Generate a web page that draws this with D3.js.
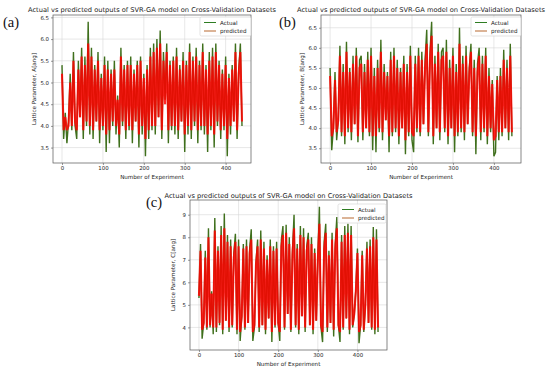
<!DOCTYPE html>
<html>
<head>
<meta charset="utf-8">
<script src="https://cdn.jsdelivr.net/npm/d3@7"></script>
<style>
  body { margin: 0; background: #fff; }
  text { font-family: "DejaVu Sans", sans-serif; fill: #222; }
  .plabel { font-family: "Liberation Serif", "DejaVu Serif", serif; fill: #111; }
</style>
</head>
<body>
<script>
// experiment step between stored samples
var STEP = 4;

var xTicks = [0, 100, 200, 300, 400];
var yTicksAB = [3.5, 4.0, 4.5, 5.0, 5.5, 6.0, 6.5];
var yTicksC = [4, 5, 6, 7, 8, 9];

var titleText = 'Actual vs predicted outputs of SVR-GA model on Cross-Validation Datasets';
var seriesNames = ['Actual', 'predicted'];

// panel (a) lattice parameter A
var aActual = [
  5.4, 3.7, 4.3, 3.6, 4.1, 5.2, 3.9, 5.7, 4.0, 3.7,
  5.5, 4.2, 5.8, 3.7, 5.6, 4.0, 6.4, 3.8, 5.8, 3.7,
  5.4, 4.1, 5.7, 3.6, 5.2, 3.9, 5.6, 3.4, 5.5, 3.6,
  5.3, 4.0, 5.5, 3.8, 4.7, 3.5, 5.8, 4.0, 5.4, 3.7,
  5.5, 3.9, 5.6, 3.6, 5.3, 4.1, 5.5, 3.5, 5.6, 3.8,
  5.2, 3.3, 5.4, 3.7, 5.8, 3.9, 5.9, 3.8, 6.0, 4.2,
  6.2, 3.7, 5.7, 4.6, 5.9, 3.6, 5.5, 3.9, 5.6, 3.8,
  5.8, 3.7, 5.4, 4.1, 5.7, 3.4, 5.5, 3.8, 5.9, 3.7,
  5.6, 4.0, 5.8, 3.6, 5.5, 3.9, 5.9, 3.8, 5.4, 3.4,
  5.7, 3.9, 5.8, 3.5, 5.9, 4.0, 5.5, 3.7, 5.3, 3.9,
  5.6, 3.3, 5.2, 3.8, 5.4, 4.1, 5.9, 3.7, 5.3, 5.9, 4.0
];
var aPredicted = [
  5.2, 3.9, 4.2, 3.9, 4.0, 5.0, 4.0, 5.5, 4.1, 3.9,
  5.3, 4.2, 5.6, 3.9, 5.4, 4.1, 5.9, 4.0, 5.6, 3.9,
  5.3, 4.1, 5.5, 3.9, 5.1, 4.0, 5.4, 3.8, 5.3, 3.9,
  5.2, 4.1, 5.3, 4.0, 4.6, 3.8, 5.6, 4.1, 5.3, 3.9,
  5.4, 4.0, 5.4, 3.9, 5.2, 4.1, 5.4, 3.8, 5.5, 4.0,
  5.1, 3.7, 5.3, 3.9, 5.6, 4.0, 5.7, 4.0, 5.8, 4.2,
  5.9, 3.9, 5.5, 4.5, 5.7, 3.9, 5.4, 4.0, 5.5, 4.0,
  5.6, 3.9, 5.3, 4.1, 5.5, 3.8, 5.4, 4.0, 5.7, 3.9,
  5.5, 4.1, 5.6, 3.9, 5.4, 4.0, 5.7, 4.0, 5.3, 3.8,
  5.5, 4.0, 5.6, 3.8, 5.7, 4.1, 5.4, 3.9, 5.2, 4.0,
  5.4, 3.7, 5.1, 4.0, 5.3, 4.1, 5.7, 3.9, 5.2, 5.7, 4.1
];

// panel (b) lattice parameter B
var bActual = [
  5.5, 3.45, 4.0, 5.4, 3.7, 4.2, 6.05, 3.8, 5.6, 3.6,
  6.15, 3.9, 5.5, 3.7, 5.8, 4.1, 6.0, 3.65, 5.7, 5.8,
  3.7, 5.6, 4.0, 5.9, 3.8, 6.0, 3.45, 5.5, 3.4, 5.7,
  3.9, 6.2, 3.7, 5.6, 4.2, 5.4, 3.4, 5.9, 3.8, 6.0,
  3.9, 5.7, 3.6, 5.5, 4.0, 5.8, 3.35, 5.6, 3.8, 6.05,
  3.7, 3.4, 5.8, 3.9, 6.0, 3.8, 5.9, 4.1, 5.7, 6.45,
  3.8, 5.9, 6.65, 3.6, 5.8, 4.0, 6.1, 3.7, 5.9, 6.0,
  3.9, 6.2, 3.6, 5.7, 4.0, 6.0, 3.4, 5.6, 3.8, 6.5,
  3.9, 5.8, 3.7, 6.05, 4.1, 5.5, 6.1, 3.8, 5.7, 3.35,
  5.6, 6.0, 3.7, 5.8, 3.9, 6.0, 3.6, 5.5, 3.9, 5.2,
  3.3, 3.4, 5.3, 3.7, 5.5, 3.8, 5.95, 4.0, 5.7, 3.7, 6.1, 3.8
];
var bPredicted = [
  5.3, 3.8, 4.0, 5.2, 3.9, 4.2, 5.8, 3.9, 5.4, 3.8,
  5.9, 4.0, 5.4, 3.9, 5.6, 4.1, 5.8, 3.8, 5.5, 5.6,
  3.9, 5.4, 4.0, 5.7, 3.9, 5.8, 3.8, 5.3, 3.8, 5.5,
  4.0, 5.9, 3.9, 5.4, 4.2, 5.3, 3.8, 5.7, 3.9, 5.8,
  4.0, 5.5, 3.8, 5.4, 4.0, 5.6, 3.7, 5.4, 3.9, 5.8,
  3.9, 3.8, 5.6, 4.0, 5.8, 3.9, 5.7, 4.1, 5.5, 6.1,
  3.9, 5.7, 6.3, 3.8, 5.6, 4.0, 5.9, 3.9, 5.7, 5.8,
  4.0, 5.9, 3.8, 5.5, 4.0, 5.8, 3.8, 5.4, 3.9, 6.1,
  4.0, 5.6, 3.9, 5.8, 4.1, 5.4, 5.9, 3.9, 5.5, 3.8,
  5.4, 5.8, 3.9, 5.6, 4.0, 5.8, 3.8, 5.3, 4.0, 5.1,
  3.7, 3.8, 5.2, 3.9, 5.3, 3.9, 5.7, 4.0, 5.5, 3.9, 5.8, 3.9
];

// panel (c) lattice parameter C
var cActual = [
  5.3, 7.7, 3.5, 4.2, 7.4, 3.9, 8.4, 4.0, 5.6, 3.7,
  8.85, 3.8, 7.6, 4.1, 8.5, 3.7, 9.05, 4.3, 8.1, 3.8,
  7.9, 4.0, 7.3, 8.15, 3.7, 7.9, 3.4, 4.5, 7.7, 3.9,
  7.9, 4.2, 7.5, 8.35, 3.4, 4.0, 6.9, 7.9, 3.8, 8.3,
  4.1, 7.8, 3.7, 7.2, 4.4, 7.9, 3.35, 7.6, 4.0, 7.8,
  4.2, 3.4, 7.9, 8.5, 3.9, 8.55, 4.6, 8.0, 3.8, 7.4,
  9.0, 4.0, 7.7, 3.7, 8.5, 4.5, 8.4, 3.8, 7.6, 8.2,
  4.1, 8.0, 3.7, 7.5, 4.3, 7.1, 9.35, 4.0, 3.35, 7.8,
  8.6, 3.8, 7.4, 4.2, 8.2, 3.6, 7.7, 8.9, 4.1, 3.35,
  8.1, 3.9, 8.5, 4.4, 8.6, 3.7, 8.5, 4.0, 4.6, 5.7,
  7.5, 3.3, 4.1, 7.4, 3.8, 5.0, 7.8, 4.2, 7.9, 3.9, 8.45, 3.7, 8.35, 3.8
];
var cPredicted = [
  5.4, 7.4, 3.9, 4.2, 7.1, 4.0, 8.0, 4.1, 5.5, 4.0,
  8.3, 4.0, 7.4, 4.2, 8.1, 3.9, 8.4, 4.3, 7.8, 4.0,
  7.6, 4.1, 7.1, 7.8, 3.9, 7.6, 3.8, 4.5, 7.5, 4.0,
  7.6, 4.2, 7.3, 7.9, 3.8, 4.1, 6.8, 7.6, 4.0, 7.9,
  4.1, 7.5, 3.9, 7.0, 4.4, 7.6, 3.8, 7.4, 4.1, 7.5,
  4.2, 3.8, 7.6, 8.1, 4.0, 8.2, 4.6, 7.7, 3.9, 7.2,
  8.4, 4.1, 7.5, 3.9, 8.1, 4.5, 8.0, 4.0, 7.4, 7.9,
  4.1, 7.7, 3.9, 7.3, 4.3, 7.0, 8.6, 4.1, 3.8, 7.5,
  8.2, 4.0, 7.2, 4.2, 7.9, 3.9, 7.5, 8.4, 4.1, 3.8,
  7.8, 4.0, 8.1, 4.4, 8.2, 3.9, 8.1, 4.1, 4.6, 5.6,
  7.3, 3.8, 4.1, 7.2, 3.9, 5.0, 7.5, 4.2, 7.6, 4.0, 8.0, 3.9, 7.9, 4.0
];

var panels = [
  { tag: '(a)', ylab: 'Lattice Parameter, A[ang]', actual: aActual, predicted: aPredicted, yTicks: yTicksAB, yFmt: '.1f',
    left: 53, right: 251, top: 15, bottom: 163, titleY: 11.5, tagX: 3, tagY: 27, ylabX: 36, xlabY: 178.5,
    legX: 200, legY: 17, legW: 51 },
  { tag: '(b)', ylab: 'Lattice Parameter, B[ang]', actual: bActual, predicted: bPredicted, yTicks: yTicksAB, yFmt: '.1f',
    left: 321, right: 521, top: 15, bottom: 163, titleY: 12, tagX: 279, tagY: 27, ylabX: 304, xlabY: 179,
    legX: 471, legY: 17, legW: 50 },
  { tag: '(c)', ylab: 'Lattice Parameter, C[ang]', actual: cActual, predicted: cPredicted, yTicks: yTicksC, yFmt: 'd',
    left: 190, right: 387, top: 200, bottom: 350, titleY: 198.3, tagX: 146, tagY: 207, ylabX: 175, xlabY: 366,
    legX: 338, legY: 204, legW: 48 }
];

var svg = d3.select('body').append('svg')
  .attr('width', 550)
  .attr('height', 372);

function padded(ext) {
  var m = (ext[1] - ext[0]) * 0.05;
  return [ext[0] - m, ext[1] + m];
}

function drawPanel(p, k) {
  var n = p.actual.length;
  var x = d3.scaleLinear()
    .domain(padded([0, (n - 1) * STEP]))
    .range([p.left, p.right]);
  var y = d3.scaleLinear()
    .domain(padded(d3.extent(p.actual.concat(p.predicted))))
    .range([p.bottom, p.top]);

  var g = svg.append('g');

  g.append('clipPath').attr('id', 'clip' + k)
    .append('rect')
      .attr('x', p.left).attr('y', p.top)
      .attr('width', p.right - p.left).attr('height', p.bottom - p.top);

  // grid
  g.selectAll('line.gx').data(xTicks).enter().append('line')
    .attr('x1', x).attr('x2', x)
    .attr('y1', p.top).attr('y2', p.bottom)
    .attr('stroke', '#d6d6d6').attr('stroke-width', 0.6);
  g.selectAll('line.gy').data(p.yTicks).enter().append('line')
    .attr('y1', y).attr('y2', y)
    .attr('x1', p.left).attr('x2', p.right)
    .attr('stroke', '#d6d6d6').attr('stroke-width', 0.6);

  var line = d3.line()
    .x(function(d, i) { return x(i * STEP); })
    .y(function(d) { return y(d); });

  var lines = g.append('g').attr('clip-path', 'url(#clip' + k + ')');
  lines.append('path').datum(p.actual)
    .attr('d', line)
    .attr('fill', 'none')
    .attr('stroke', '#3f6f1c')
    .attr('stroke-width', 1.4);
  lines.append('path').datum(p.predicted)
    .attr('d', line)
    .attr('fill', 'none')
    .attr('stroke', '#ff0000')
    .attr('stroke-opacity', 0.85)
    .attr('stroke-width', 2.1);

  // frame
  g.append('rect')
    .attr('x', p.left).attr('y', p.top)
    .attr('width', p.right - p.left).attr('height', p.bottom - p.top)
    .attr('fill', 'none').attr('stroke', '#555').attr('stroke-width', 0.7);

  var xAxis = g.append('g')
    .attr('transform', 'translate(0,' + p.bottom + ')')
    .call(d3.axisBottom(x).tickValues(xTicks).tickSize(2).tickPadding(1.5));
  var yAxis = g.append('g')
    .attr('transform', 'translate(' + p.left + ',0)')
    .call(d3.axisLeft(y).tickValues(p.yTicks).tickFormat(d3.format(p.yFmt)).tickSize(2).tickPadding(2));
  [xAxis, yAxis].forEach(function(a) {
    a.select('.domain').remove();
    a.selectAll('line').attr('stroke', '#555').attr('stroke-width', 0.6);
    a.selectAll('text').attr('font-size', 5.4).attr('fill', '#333')
      .attr('font-family', '"DejaVu Sans", sans-serif');
  });

  var cx = (p.left + p.right) / 2;
  g.append('text')
    .attr('x', cx).attr('y', p.titleY)
    .attr('text-anchor', 'middle')
    .attr('font-size', 6.6)
    .attr('textLength', 248).attr('lengthAdjust', 'spacingAndGlyphs')
    .text(titleText);

  g.append('text').attr('class', 'plabel')
    .attr('x', p.tagX).attr('y', p.tagY)
    .attr('font-size', 14.5)
    .text(p.tag);

  g.append('text')
    .attr('x', cx).attr('y', p.xlabY)
    .attr('text-anchor', 'middle')
    .attr('font-size', 5.6).attr('fill', '#333')
    .text('Number of Experiment');

  g.append('text')
    .attr('transform', 'translate(' + p.ylabX + ',' + ((p.top + p.bottom) / 2) + ') rotate(-90)')
    .attr('text-anchor', 'middle')
    .attr('font-size', 5.6).attr('fill', '#333')
    .text(p.ylab);

  // legend
  var leg = g.append('g').attr('transform', 'translate(' + p.legX + ',' + p.legY + ')');
  leg.append('rect')
    .attr('width', p.legW).attr('height', 19).attr('rx', 1.5)
    .attr('fill', '#fff').attr('fill-opacity', 0.85)
    .attr('stroke', '#d0d0d0').attr('stroke-width', 0.6);
  var legColors = ['#2e7d22', '#b8682e'];
  var item = leg.selectAll('g.item').data(seriesNames).enter().append('g')
    .attr('transform', function(d, i) { return 'translate(0,' + (5.5 + i * 8.5) + ')'; });
  item.append('line')
    .attr('x1', 4).attr('x2', 16)
    .attr('stroke', function(d, i) { return legColors[i]; })
    .attr('stroke-width', 1);
  item.append('text')
    .attr('x', 20).attr('y', 2)
    .attr('font-size', 5.6).attr('fill', '#333')
    .text(function(d) { return d; });
}

panels.forEach(drawPanel);
</script>
</body>
</html>
